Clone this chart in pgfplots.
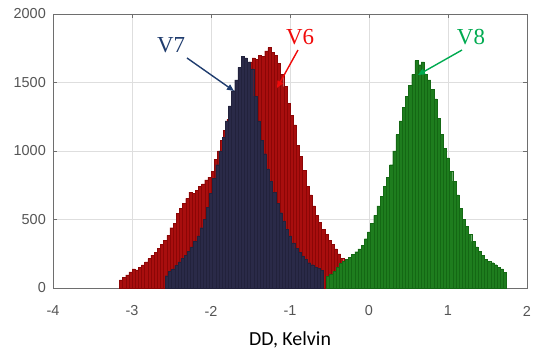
\documentclass[border=0pt]{standalone}
\usepackage{pgfplots}
\pgfplotsset{compat=1.18}
\usepackage{pgfplotstable}
\usepackage{fontspec}
\setmainfont{Liberation Sans}
\newfontfamily\labelfont{Carlito}
\newfontfamily\annfont{Liberation Serif}
\usetikzlibrary{arrows.meta}
\definecolor{redfill}{RGB}{168,14,14}
\definecolor{rededge}{RGB}{140,6,6}
\definecolor{navyfill}{RGB}{42,42,72}
\definecolor{navyedge}{RGB}{34,34,60}
\definecolor{greenfill}{RGB}{30,125,30}
\definecolor{greenedge}{RGB}{20,104,20}
\definecolor{vsevenc}{RGB}{31,60,110}
\definecolor{vsixc}{RGB}{240,10,10}
\definecolor{veightc}{RGB}{0,170,80}
\definecolor{tickgray}{RGB}{85,85,85}
\definecolor{gridgray}{RGB}{222,222,222}
\definecolor{boxgray}{RGB}{110,110,110}

\pgfplotstableread{
x y
-3.16 60
-3.12 78
-3.08 95
-3.04 118
-3.00 140
-2.96 132
-2.92 150
-2.88 168
-2.84 190
-2.80 215
-2.76 240
-2.72 262
-2.68 290
-2.64 318
-2.60 350
-2.56 385
-2.52 440
-2.48 470
-2.44 545
-2.40 580
-2.36 620
-2.32 655
-2.28 700
-2.24 690
-2.20 715
-2.16 740
-2.12 760
-2.08 790
-2.04 810
-2.00 850
-1.96 940
-1.92 1000
-1.88 1080
-1.84 1150
-1.80 1230
-1.76 1300
-1.72 1370
-1.68 1440
-1.64 1500
-1.60 1560
-1.56 1610
-1.52 1650
-1.48 1680
-1.44 1670
-1.40 1700
-1.36 1690
-1.32 1730
-1.28 1755
-1.24 1720
-1.20 1700
-1.16 1640
-1.12 1560
-1.08 1470
-1.04 1350
-1.00 1260
-0.96 1190
-0.92 1040
-0.88 960
-0.84 860
-0.80 740
-0.76 680
-0.72 600
-0.68 530
-0.64 480
-0.60 430
-0.56 390
-0.52 350
-0.48 320
-0.44 285
-0.40 250
-0.36 215
-0.32 180
-0.28 180
}\vsix

\pgfplotstableread{
x y
-2.58 90
-2.54 120
-2.50 140
-2.46 165
-2.42 190
-2.38 215
-2.34 240
-2.30 270
-2.26 300
-2.22 340
-2.18 380
-2.14 440
-2.10 500
-2.06 590
-2.02 690
-1.98 800
-1.94 900
-1.90 1000
-1.86 1100
-1.82 1220
-1.78 1330
-1.74 1440
-1.70 1520
-1.66 1610
-1.62 1690
-1.58 1680
-1.54 1650
-1.50 1600
-1.46 1400
-1.42 1220
-1.38 1080
-1.34 980
-1.30 870
-1.26 780
-1.22 700
-1.18 620
-1.14 550
-1.10 490
-1.06 430
-1.02 380
-0.98 330
-0.94 290
-0.90 260
-0.86 235
-0.82 210
-0.78 185
-0.74 170
-0.70 155
-0.66 145
-0.62 130
-0.58 130
}\vseven

\pgfplotstableread{
x y
-0.54 85
-0.50 100
-0.46 120
-0.42 150
-0.38 180
-0.34 195
-0.30 210
-0.26 225
-0.22 245
-0.18 265
-0.14 285
-0.10 310
-0.06 360
-0.02 410
0.02 470
0.06 530
0.10 600
0.14 670
0.18 740
0.22 810
0.26 900
0.30 1000
0.34 1120
0.38 1220
0.42 1320
0.46 1400
0.50 1480
0.54 1560
0.58 1660
0.62 1630
0.66 1650
0.70 1560
0.74 1520
0.78 1450
0.82 1380
0.86 1240
0.90 1120
0.94 1020
0.98 950
1.02 850
1.06 780
1.10 680
1.14 580
1.18 500
1.22 450
1.26 390
1.30 340
1.34 300
1.38 270
1.42 240
1.46 210
1.50 195
1.54 185
1.58 170
1.62 150
1.66 140
1.70 115
1.74 115
}\veight

\begin{document}
\begin{tikzpicture}
\begin{axis}[
  at={(0,0)}, anchor=south west,
  scale only axis,
  width=474bp, height=274bp,
  xmin=-4, xmax=2, ymin=0, ymax=2000,
  xtick={-4,-3,-2,-1,0,1,2},
  xticklabels={-4,-3,-2,-1,0,1,2},
  ytick={0,500,1000,1500,2000},
  yticklabels={0,500,1000,1500,2000},
  xtick pos=both, ytick pos=both,
  xticklabel pos=lower, yticklabel pos=left,
  tick align=inside,
  major tick length=4bp,
  tick style={boxgray, line width=0.6bp},
  axis line style={boxgray, line width=0.8bp},
  grid=major,
  major grid style={gridgray, line width=0.8bp},
  xticklabel style={font=\fontsize{14.5}{14.5}\selectfont, text=tickgray, anchor=center, inner sep=0pt, yshift=-23bp},
  yticklabel style={font=\fontsize{14.5}{14.5}\selectfont, text=tickgray, anchor=east, inner sep=0pt, xshift=-7bp},
  xlabel={DD, Kelvin},
  xlabel style={at={(axis description cs:0.5,0)}, anchor=center, yshift=-52bp, font=\labelfont\fontsize{20}{20}\selectfont, text=black},
]
\addplot[ybar interval, fill=redfill, draw=rededge, line width=0.3bp] table[x=x,y=y] {\vsix};
\addplot[ybar interval, fill=navyfill, draw=navyedge, line width=0.3bp] table[x=x,y=y] {\vseven};
\addplot[ybar interval, fill=greenfill, draw=greenedge, line width=0.3bp] table[x=x,y=y] {\veight};

\node[text=vsevenc, font=\annfont\fontsize{23}{23}\selectfont] at (axis cs:-2.506,1774) {V7};
\draw[vsevenc, line width=1.4bp, -{Triangle[length=7bp,width=6bp]}] (axis cs:-2.304,1679) -- (axis cs:-1.709,1438);
\node[text=vsixc, font=\annfont\fontsize{23}{23}\selectfont] at (axis cs:-0.873,1832) {V6};
\draw[vsixc, line width=1.4bp, -{Triangle[length=7bp,width=6bp]}] (axis cs:-0.899,1737) -- (axis cs:-1.165,1460);
\node[text=veightc, font=\annfont\fontsize{23}{23}\selectfont] at (axis cs:1.291,1832) {V8};
\draw[veightc, line width=1.4bp, -{Triangle[length=7bp,width=6bp]}] (axis cs:1.177,1737) -- (axis cs:0.620,1555);
\end{axis}
\pgfresetboundingbox
\useasboundingbox (-53bp,-73bp) rectangle (497bp,288bp);
\end{tikzpicture}
\end{document}
